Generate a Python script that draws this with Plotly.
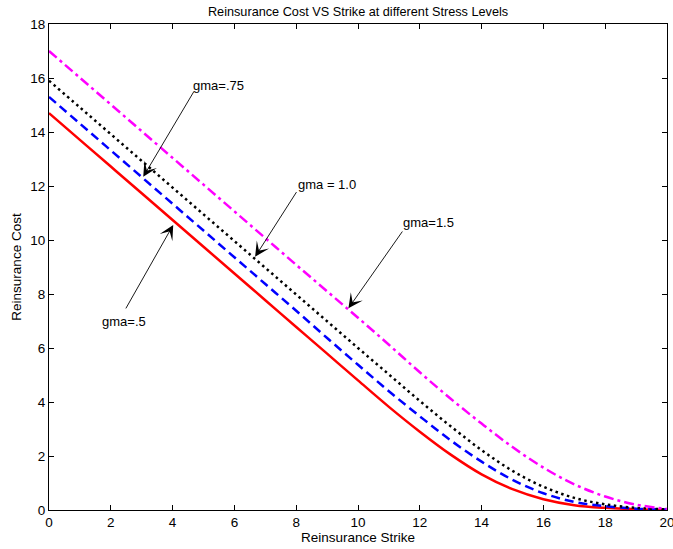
import plotly.graph_objects as go

strike = list(range(0, 21))
cost_gma_05 = [14.70, 13.71, 12.72, 11.73, 10.74, 9.75, 8.76, 7.77, 6.78, 5.79, 4.80,
               3.82, 2.90, 2.05, 1.32, 0.77, 0.40, 0.18, 0.08, 0.03, 0.01]
cost_gma_075 = [15.30, 14.31, 13.32, 12.33, 11.34, 10.35, 9.36, 8.37, 7.38, 6.37, 5.38,
                4.40, 3.47, 2.58, 1.79, 1.12, 0.62, 0.30, 0.14, 0.05, 0.02]
cost_gma_10 = [15.90, 14.91, 13.92, 12.93, 11.94, 10.95, 9.96, 8.97, 7.98, 6.99, 6.00,
               5.02, 4.04, 3.10, 2.22, 1.45, 0.86, 0.45, 0.21, 0.08, 0.02]
cost_gma_15 = [17.00, 16.01, 15.02, 14.03, 13.04, 12.05, 11.06, 10.07, 9.08, 8.10, 7.12,
               6.12, 5.10, 4.12, 3.20, 2.33, 1.57, 0.95, 0.50, 0.20, 0.04]

x_ticks = list(range(0, 21, 2))
y_ticks = list(range(0, 19, 2))

label_texts = ["gma=.75", "gma = 1.0", "gma=1.5", "gma=.5"]
label_pos = [(4.66, 15.74), (8.06, 12.04), (11.46, 10.63), (1.72, 7.0)]
arrow_tails = [(4.72, 15.56), (8.04, 11.83), (11.47, 10.37), (2.46, 7.41)]
arrow_tips = [(3.05, 12.34), (6.67, 9.38), (9.69, 7.47), (4.02, 10.56)]

FONT = "Liberation Sans, Arial, sans-serif"

fig = go.Figure()
fig.add_trace(go.Scatter(x=strike, y=cost_gma_05, mode="lines", line_shape="spline",
                         line=dict(color="#ff0000", width=2.5)))
fig.add_trace(go.Scatter(x=strike, y=cost_gma_075, mode="lines", line_shape="spline",
                         line=dict(color="#0000ff", width=2.5, dash="9px,5px")))
fig.add_trace(go.Scatter(x=strike, y=cost_gma_10, mode="lines", line_shape="spline",
                         line=dict(color="#000000", width=2.5, dash="2.5px,3.5px")))
fig.add_trace(go.Scatter(x=strike, y=cost_gma_15, mode="lines", line_shape="spline",
                         line=dict(color="#ff00ff", width=2.5, dash="10px,4px,3px,4px")))

annotations = []
for txt, (tx, ty) in zip(label_texts, label_pos):
    annotations.append(dict(x=tx, y=ty, xref="x", yref="y", text=txt, showarrow=False,
                            xanchor="left", yanchor="middle", xshift=-2,
                            font=dict(family=FONT, size=13, color="#000000")))
for (ax_, ay_), (hx, hy) in zip(arrow_tails, arrow_tips):
    annotations.append(dict(x=hx, y=hy, ax=ax_, ay=ay_, xref="x", yref="y",
                            axref="x", ayref="y", text="", showarrow=True,
                            arrowhead=3, arrowsize=2.7, arrowwidth=0.9,
                            arrowcolor="#000000", standoff=0, startstandoff=0))

fig.update_layout(
    width=673, height=549,
    margin=dict(l=49, r=6, t=24, b=39, autoexpand=False),
    paper_bgcolor="white", plot_bgcolor="white",
    showlegend=False,
    font=dict(family=FONT, size=13, color="#000000"),
    title=dict(text="Reinsurance Cost VS Strike at different Stress Levels",
               x=0.532, xanchor="center", y=0.979, yanchor="middle",
               font=dict(family=FONT, size=12.7, color="#000000")),
    annotations=annotations,
)
fig.update_xaxes(range=[0, 20], tickvals=x_ticks, ticks="inside", ticklen=5,
                 tickcolor="#000000", showline=True, linecolor="#000000", linewidth=1,
                 mirror="ticks", showgrid=False, zeroline=False, automargin=False,
                 ticklabeloverflow="allow",
                 title=dict(text="Reinsurance Strike", standoff=3,
                            font=dict(family=FONT, size=13.5)),
                 tickfont=dict(family=FONT, size=13.5))
fig.update_yaxes(range=[0, 18], tickvals=y_ticks, ticks="inside", ticklen=5,
                 tickcolor="#000000", showline=True, linecolor="#000000", linewidth=1,
                 mirror="ticks", showgrid=False, zeroline=False, automargin=False,
                 ticklabeloverflow="allow",
                 title=dict(text="Reinsurance Cost", standoff=5,
                            font=dict(family=FONT, size=13.5)),
                 tickfont=dict(family=FONT, size=13.5))

fig.write_html("out.html")
